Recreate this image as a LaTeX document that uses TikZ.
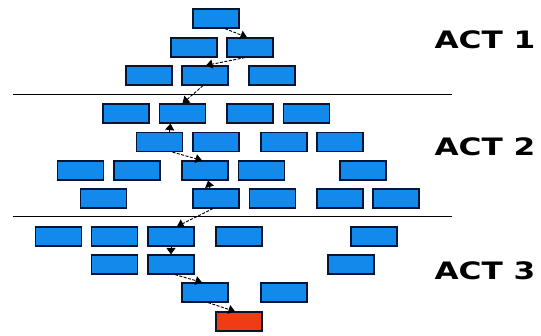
\documentclass[tikz,border=0pt]{standalone}
\usepackage{fontspec}
\usetikzlibrary{arrows.meta}
\newfontfamily\actfont{DejaVu Sans}
\definecolor{boxblue}{RGB}{18,138,236}
\definecolor{boxred}{RGB}{240,60,20}
\definecolor{boxedge}{RGB}{8,20,50}
\begin{document}
\begin{tikzpicture}[x=1pt,y=-1pt,
  blk/.style={draw=boxedge,line width=1.2pt,fill=boxblue,minimum width=46pt,minimum height=19pt,inner sep=0pt},
  endblk/.style={blk,fill=boxred},
  flow/.style={dashed,dash pattern=on 3pt off 1.5pt,line width=0.9pt,-{Triangle[length=6.5pt,width=9pt]}},
  sep/.style={line width=1pt},
  act/.style={font=\actfont\bfseries\fontsize{24}{24}\selectfont,inner sep=0pt}]
\useasboundingbox (0,0) rectangle (541,335);
% Act 1
\node[blk] (r1a) at (216,18.5) {};
\node[blk] (r2a) at (194,47.5) {};
\node[blk] (r2b) at (250,47.5) {};
\node[blk] (r3a) at (149,75.5) {};
\node[blk] (r3b) at (205,75.5) {};
\node[blk] (r3c) at (272,75.5) {};
% Act 2
\node[blk] (r4a) at (126,113.5) {};
\node[blk] (r4b) at (182.5,113.5) {};
\node[blk] (r4c) at (250,113.5) {};
\node[blk] (r4d) at (306.5,113.5) {};
\node[blk] (r5a) at (159.5,142) {};
\node[blk] (r5b) at (216,142) {};
\node[blk] (r5c) at (284,142) {};
\node[blk] (r5d) at (340,142) {};
\node[blk] (r6a) at (80.5,170.5) {};
\node[blk] (r6b) at (137,170.5) {};
\node[blk] (r6c) at (205,170.5) {};
\node[blk] (r6d) at (261.5,170.5) {};
\node[blk] (r6e) at (363,170.5) {};
\node[blk] (r7a) at (103.5,198.5) {};
\node[blk] (r7b) at (216,198.5) {};
\node[blk] (r7c) at (272.5,198.5) {};
\node[blk] (r7d) at (340,198.5) {};
\node[blk] (r7e) at (396,198.5) {};
% Act 3
\node[blk] (r8a) at (58.5,236.5) {};
\node[blk] (r8b) at (114.5,236.5) {};
\node[blk] (r8c) at (171,236.5) {};
\node[blk] (r8d) at (239,236.5) {};
\node[blk] (r8e) at (374,236.5) {};
\node[blk] (r9a) at (114.5,264.5) {};
\node[blk] (r9b) at (171,264.5) {};
\node[blk] (r9c) at (351,264.5) {};
\node[blk] (r10a) at (205,292.5) {};
\node[blk] (r10b) at (284,292.5) {};
\node[endblk] (fin) at (239,321.5) {};
% separators
\coordinate (s1l) at (13,94);
\coordinate (s1r) at (452,94);
\coordinate (s2l) at (13,216.5);
\coordinate (s2r) at (452,216.5);
\draw[sep] (s1l) -- (s1r);
\draw[sep] (s2l) -- (s2r);
% labels
\node[act] (act1) at (485,40) {\scalebox{1.3}[1]{ACT 1}};
\node[act] (act2) at (485,147) {\scalebox{1.3}[1]{ACT 2}};
\node[act] (act3) at (485,271) {\scalebox{1.3}[1]{ACT 3}};
% story path
\draw[flow] ([xshift=9pt]r1a.south) -- ([xshift=-3pt]r2b.north);
\draw[flow] ([xshift=-5pt]r2b.south) -- ([xshift=1pt]r3b.north);
\draw[flow] ([xshift=-2pt]r3b.south) -- (r4b.north);
\draw[flow] ([xshift=10pt]r5a.north) -- ([xshift=-12pt]r4b.south);
\draw[flow] ([xshift=13pt]r5a.south) -- ([xshift=-3pt]r6c.north);
\draw[flow] ([xshift=-6pt]r7b.north) -- ([xshift=3pt]r6c.south);
\draw[flow] ([xshift=-3pt]r7b.south) -- ([xshift=6pt]r8c.north);
\draw[flow] (r8c.south) -- (r9b.north);
\draw[flow] ([xshift=4pt]r9b.south) -- ([xshift=-3pt]r10a.north);
\draw[flow] ([xshift=3pt]r10a.south) -- ([xshift=-4pt]fin.north);
\end{tikzpicture}
\end{document}
